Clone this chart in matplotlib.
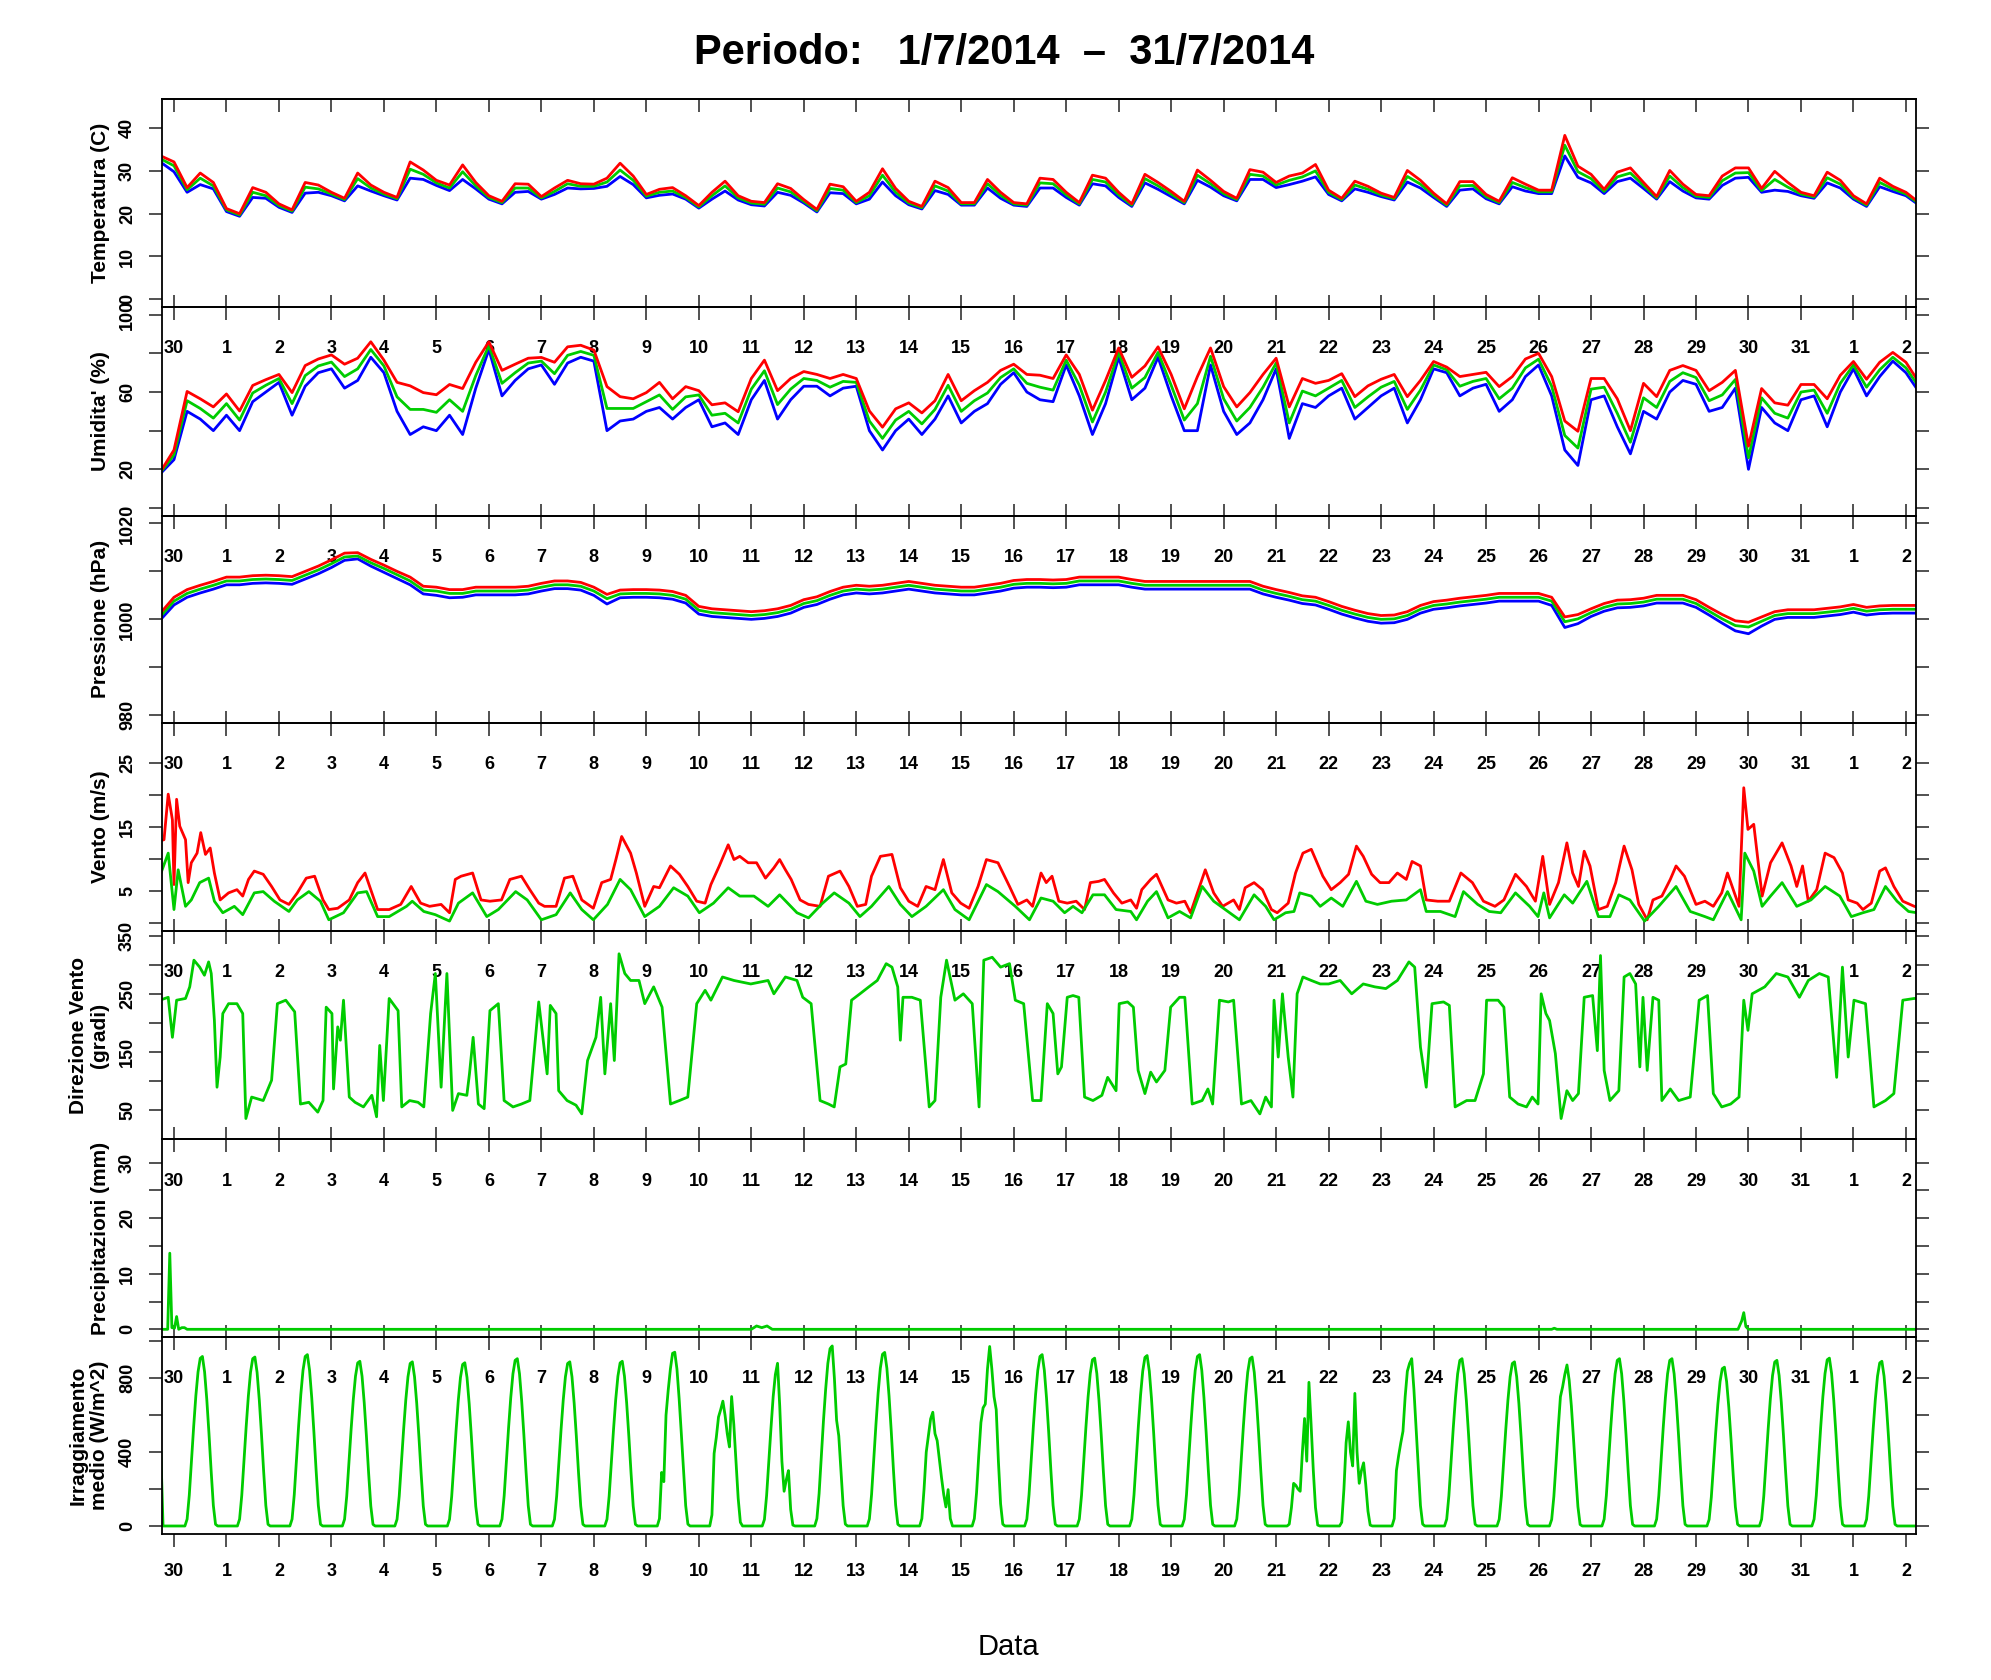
import numpy as np
import matplotlib
matplotlib.use('Agg')
import matplotlib.pyplot as plt

plt.rcParams['font.family'] = ['Liberation Sans', 'DejaVu Sans']
plt.rcParams['font.weight'] = 'bold'

# ---------------- data ----------------
day_labels = ['30', '1', '2', '3', '4', '5', '6', '7', '8', '9', '10', '11', '12', '13', '14', '15', '16',
              '17', '18', '19', '20', '21', '22', '23', '24', '25', '26', '27', '28', '29', '30', '31', '1', '2']

# 6-hourly series, first value at t = -0.25 day (t = 0 is the "30" tick)
temp_max = [33.5,
    32.1, 26.1, 29.5, 27.3,  21.2, 20.0, 26.1, 25.0,  22.3, 20.9, 27.3, 26.7,  25.0, 23.6, 29.5, 26.7,
    25.0, 23.8, 32.1, 30.2,  27.8, 26.7, 31.4, 27.3,  24.2, 22.9, 27.0, 26.9,  24.0, 26.0, 27.8, 27.0,
    26.9, 28.3, 31.8, 28.8,  24.5, 25.7, 26.1, 24.2,  21.9, 25.0, 27.6, 24.2,  22.9, 22.6, 27.0, 25.9,
    23.3, 21.0, 26.9, 26.3,  22.9, 25.0, 30.5, 25.9,  22.9, 21.7, 27.6, 26.1,  22.6, 22.6, 28.0, 25.0,
    22.6, 22.3, 28.3, 28.0,  25.0, 22.6, 29.0, 28.3,  25.0, 22.3, 29.2, 27.3,  25.2, 22.9, 30.2, 27.8,
    25.2, 23.6, 30.3, 29.7,  27.3, 28.8, 29.5, 31.5,  25.5, 23.6, 27.6, 26.4,  24.8, 23.8, 30.1, 27.8,
    24.8, 22.3, 27.5, 27.5,  24.5, 22.9, 28.4, 26.9,  25.5, 25.5, 38.3, 31.1,  29.2, 25.7, 29.7, 30.7,
    27.3, 24.0, 30.1, 26.9,  24.5, 24.2, 28.8, 30.7,  30.7, 25.9, 29.9, 27.3,  25.0, 24.2, 29.7, 27.8,
    24.2, 22.3, 28.3, 26.4,  25.0, 22.6]
temp_mean = [32.8,
    31.2, 25.6, 28.3, 26.5,  20.9, 19.7, 25.0, 24.2,  21.9, 20.6, 26.2, 25.8,  24.6, 23.3, 28.2, 26.0,
    24.6, 23.5, 30.4, 29.2,  27.2, 26.0, 29.8, 26.5,  23.8, 22.6, 26.0, 26.0,  23.7, 25.2, 27.0, 26.4,
    26.4, 27.4, 30.2, 27.8,  24.1, 25.0, 25.3, 23.8,  21.6, 24.2, 26.5, 23.7,  22.5, 22.2, 26.0, 25.1,
    22.9, 20.7, 25.9, 25.5,  22.6, 24.2, 29.0, 25.0,  22.5, 21.4, 26.5, 25.3,  22.3, 22.3, 27.0, 24.3,
    22.3, 22.0, 27.2, 27.0,  24.4, 22.3, 28.0, 27.4,  24.4, 22.0, 28.2, 26.5,  24.6, 22.6, 29.0, 27.0,
    24.7, 23.3, 29.2, 28.8,  26.7, 27.8, 28.6, 30.0,  25.0, 23.3, 26.7, 25.7,  24.4, 23.5, 28.7, 26.9,
    24.3, 22.0, 26.5, 26.6,  24.0, 22.6, 27.3, 26.1,  25.1, 25.1, 36.0, 29.8,  28.2, 25.2, 28.6, 29.5,
    26.6, 23.7, 28.8, 26.1,  24.1, 23.8, 27.7, 29.5,  29.6, 25.4, 28.0, 26.2,  24.6, 23.9, 28.4, 26.9,
    23.8, 22.0, 27.3, 25.8,  24.6, 22.3]
temp_min = [32.0,
    29.8, 25.0, 26.8, 25.8,  20.5, 19.4, 23.8, 23.6,  21.5, 20.3, 24.8, 25.0,  24.2, 23.0, 26.5, 25.3,
    24.2, 23.2, 28.3, 28.0,  26.6, 25.4, 28.0, 25.8,  23.4, 22.3, 25.0, 25.2,  23.4, 24.5, 26.0, 25.8,
    25.9, 26.4, 28.7, 26.8,  23.7, 24.3, 24.6, 23.4,  21.3, 23.4, 25.3, 23.2,  22.1, 21.8, 25.0, 24.3,
    22.5, 20.4, 24.9, 24.7,  22.3, 23.4, 27.4, 24.2,  22.1, 21.1, 25.4, 24.5,  22.0, 22.0, 26.0, 23.6,
    22.0, 21.7, 26.0, 26.0,  23.8, 22.0, 27.0, 26.5,  23.8, 21.7, 27.2, 25.7,  24.0, 22.3, 27.8, 26.2,
    24.2, 23.0, 28.0, 28.0,  26.1, 26.8, 27.6, 28.6,  24.5, 23.0, 25.8, 25.0,  24.0, 23.2, 27.4, 26.0,
    23.8, 21.7, 25.5, 25.8,  23.5, 22.3, 26.3, 25.3,  24.7, 24.7, 33.5, 28.5,  27.2, 24.7, 27.5, 28.3,
    25.9, 23.4, 27.5, 25.3,  23.7, 23.4, 26.6, 28.3,  28.5, 25.0, 25.5, 25.2,  24.2, 23.6, 27.2, 26.0,
    23.4, 21.7, 26.3, 25.2,  24.2, 22.0]

hum_max = [19.1,
    30.0, 60.3, 56.5, 52.3,  59.0, 50.2, 63.4, 66.4,  69.1, 59.7, 73.7, 77.1,  79.2, 74.4, 77.5, 86.0,
    76.5, 65.0, 63.2, 59.7,  58.6, 63.9, 61.8, 75.4,  86.0, 71.2, 74.4, 77.5,  77.9, 75.4, 83.4, 84.2,
    81.7, 62.8, 57.6, 56.5,  59.7, 65.0, 56.5, 62.8,  60.7, 53.4, 54.4, 49.8,  67.0, 76.5, 60.7, 67.0,
    70.6, 69.1, 67.0, 69.1,  67.0, 50.2, 41.8, 51.3,  54.4, 49.2, 55.5, 69.1,  55.5, 60.7, 65.0, 71.2,
    74.4, 69.1, 68.7, 67.0,  79.2, 69.1, 50.6, 66.0,  82.8, 67.6, 73.5, 83.4,  69.1, 51.3, 68.0, 82.8,
    62.8, 52.3, 59.7, 69.1,  77.5, 52.3, 67.0, 64.5,  66.0, 69.5, 57.6, 63.2,  66.6, 69.1, 57.6, 66.0,
    75.8, 72.9, 68.0, 69.1,  70.2, 62.8, 68.0, 77.1,  80.0, 68.0, 45.0, 39.7,  67.0, 67.0, 56.5, 40.0,
    64.5, 57.6, 71.2, 73.7,  71.2, 60.7, 65.0, 71.2,  32.0, 61.8, 54.4, 53.2,  63.9, 63.9, 56.5, 68.7,
    75.8, 66.6, 75.4, 80.5,  75.4, 64.9]
hum_mean = [18.6,
    27.5, 55.5, 51.5, 46.5,  54.0, 45.5, 59.5, 63.5,  67.0, 54.0, 68.5, 73.5,  75.5, 68.0, 72.0, 82.0,
    73.5, 57.5, 51.0, 51.0,  49.5, 56.0, 50.0, 68.5,  84.0, 64.5, 70.0, 75.0,  76.0, 69.5, 79.0, 81.0,
    79.0, 51.5, 51.5, 51.5,  55.0, 58.5, 51.0, 57.5,  58.5, 48.0, 49.0, 44.0,  61.5, 71.0, 53.5, 61.5,
    67.0, 66.0, 62.5, 65.5,  65.0, 45.0, 36.0, 45.5,  50.0, 43.5, 51.0, 63.5,  50.0, 55.5, 59.5, 67.5,
    72.0, 64.5, 62.5, 61.0,  76.5, 63.5, 44.5, 60.0,  80.5, 62.0, 67.5, 80.5,  63.5, 45.5, 54.0, 78.5,
    56.5, 45.0, 52.0, 62.5,  75.0, 44.0, 60.5, 58.0,  62.0, 66.0, 52.0, 57.5,  62.5, 65.5, 51.0, 61.0,
    74.0, 71.5, 63.0, 65.5,  67.0, 56.5, 62.0, 72.5,  77.0, 63.0, 37.5, 31.0,  61.5, 62.5, 49.0, 34.0,
    57.0, 52.0, 65.5, 70.0,  67.5, 55.5, 58.5, 66.5,  26.0, 57.0, 49.0, 46.5,  60.0, 61.0, 49.0, 64.5,
    74.0, 62.5, 71.5, 78.0,  72.5, 62.5]
hum_min = [18.0,
    25, 50, 46, 40,  48, 40, 55, 60,  65, 48, 63, 70,  72, 62, 66, 78,
    70, 50, 38, 42,  40, 48, 38, 62,  82, 58, 66, 72,  74, 64, 75, 78,
    76, 40, 45, 46,  50, 52, 46, 52,  56, 42, 44, 38,  56, 66, 46, 56,
    63, 63, 58, 62,  63, 40, 30, 40,  46, 38, 46, 58,  44, 50, 54, 64,
    70, 60, 56, 55,  74, 58, 38, 54,  78, 56, 62, 78,  58, 40, 40, 74,
    50, 38, 44, 56,  72, 36, 54, 52,  58, 62, 46, 52,  58, 62, 44, 56,
    72, 70, 58, 62,  64, 50, 56, 68,  74, 58, 30, 22,  56, 58, 42, 28,
    50, 46, 60, 66,  64, 50, 52, 62,  20, 52, 44, 40,  56, 58, 42, 60,
    72, 58, 68, 76,  70, 60]

press_max = [1001.4,
    1004.6, 1006.2, 1007.1, 1007.9,  1008.8, 1008.8, 1009.1, 1009.2,  1009.1, 1008.9, 1010.0, 1011.1,
    1012.4, 1013.8, 1013.9, 1012.5,  1011.3, 1010.0, 1008.8, 1006.9,  1006.7, 1006.2, 1006.2, 1006.7,
    1006.7, 1006.7, 1006.7, 1006.9,  1007.5, 1008.0, 1008.0, 1007.7,  1006.7, 1005.2, 1006.1, 1006.2,
    1006.2, 1006.1, 1005.8, 1005.0,  1002.7, 1002.2, 1002.0, 1001.8,  1001.6, 1001.8, 1002.2, 1002.9,
    1004.1, 1004.7, 1005.8, 1006.7,  1007.1, 1006.9, 1007.1, 1007.5,  1007.9, 1007.5, 1007.1, 1006.9,
    1006.7, 1006.7, 1007.1, 1007.5,  1008.1, 1008.3, 1008.3, 1008.2,  1008.3, 1008.8, 1008.8, 1008.8,
    1008.8, 1008.3, 1007.9, 1007.9,  1007.9, 1007.9, 1007.9, 1007.9,  1007.9, 1007.9, 1007.9, 1006.9,
    1006.2, 1005.6, 1004.9, 1004.6,  1003.7, 1002.7, 1001.9, 1001.2,  1000.8, 1000.9, 1001.6, 1002.9,
    1003.7, 1004.0, 1004.4, 1004.7,  1005.0, 1005.4, 1005.4, 1005.4,  1005.4, 1004.6, 1000.5, 1001.0,
    1002.2, 1003.3, 1004.0, 1004.1,  1004.4, 1005.0, 1005.0, 1005.0,  1004.1, 1002.5, 1001.0, 999.7,
    999.4, 1000.5, 1001.6, 1002.0,  1002.0, 1002.0, 1002.3, 1002.6,  1003.1, 1002.5, 1002.8, 1002.9,
    1002.9, 1002.9]
press_mean = [1000.7,
    1003.8, 1005.4, 1006.3, 1007.1,  1008.0, 1008.0, 1008.3, 1008.4,  1008.3, 1008.1, 1009.2, 1010.3,
    1011.6, 1013.0, 1013.2, 1011.8,  1010.6, 1009.3, 1008.0, 1006.1,  1005.9, 1005.4, 1005.4, 1005.9,
    1005.9, 1005.9, 1005.9, 1006.1,  1006.7, 1007.2, 1007.2, 1006.9,  1005.9, 1004.3, 1005.3, 1005.4,
    1005.4, 1005.3, 1005.0, 1004.2,  1001.9, 1001.4, 1001.2, 1001.0,  1000.8, 1001.0, 1001.4, 1002.1,
    1003.3, 1003.9, 1005.0, 1005.9,  1006.3, 1006.1, 1006.3, 1006.7,  1007.1, 1006.7, 1006.3, 1006.1,
    1005.9, 1005.9, 1006.3, 1006.7,  1007.3, 1007.5, 1007.5, 1007.4,  1007.5, 1008.0, 1008.0, 1008.0,
    1008.0, 1007.5, 1007.1, 1007.1,  1007.1, 1007.1, 1007.1, 1007.1,  1007.1, 1007.1, 1007.1, 1006.1,
    1005.4, 1004.8, 1004.1, 1003.8,  1002.9, 1001.9, 1001.1, 1000.4,  1000.0, 1000.1, 1000.8, 1002.1,
    1002.9, 1003.2, 1003.6, 1003.9,  1004.2, 1004.6, 1004.6, 1004.6,  1004.6, 1003.8, 999.5, 1000.1,
    1001.4, 1002.5, 1003.2, 1003.3,  1003.6, 1004.2, 1004.2, 1004.2,  1003.3, 1001.7, 1000.1, 998.7,
    998.4, 999.6, 1000.8, 1001.2,  1001.2, 1001.2, 1001.5, 1001.8,  1002.3, 1001.7, 1002.0, 1002.1,
    1002.1, 1002.1]
press_min = [1000.0,
    1003.0, 1004.6, 1005.5, 1006.3,  1007.2, 1007.2, 1007.5, 1007.6,  1007.5, 1007.3, 1008.4, 1009.5,
    1010.8, 1012.3, 1012.6, 1011.1,  1009.8, 1008.5, 1007.2, 1005.3,  1005.0, 1004.5, 1004.6, 1005.1,
    1005.1, 1005.1, 1005.1, 1005.3,  1005.9, 1006.4, 1006.4, 1006.1,  1005.0, 1003.2, 1004.5, 1004.6,
    1004.6, 1004.5, 1004.2, 1003.4,  1001.1, 1000.6, 1000.4, 1000.2,  1000.0, 1000.2, 1000.6, 1001.3,
    1002.5, 1003.1, 1004.2, 1005.1,  1005.5, 1005.3, 1005.5, 1005.9,  1006.3, 1005.9, 1005.5, 1005.3,
    1005.1, 1005.1, 1005.5, 1005.9,  1006.5, 1006.7, 1006.7, 1006.6,  1006.7, 1007.2, 1007.2, 1007.2,
    1007.2, 1006.7, 1006.3, 1006.3,  1006.3, 1006.3, 1006.3, 1006.3,  1006.3, 1006.3, 1006.3, 1005.3,
    1004.6, 1004.0, 1003.3, 1003.0,  1002.1, 1001.1, 1000.3, 999.6,  999.2, 999.3, 1000.0, 1001.3,
    1002.1, 1002.4, 1002.8, 1003.1,  1003.4, 1003.8, 1003.8, 1003.8,  1003.8, 1002.9, 998.3, 999.1,
    1000.6, 1001.7, 1002.4, 1002.5,  1002.8, 1003.4, 1003.4, 1003.4,  1002.5, 1000.9, 999.2, 997.6,
    997.0, 998.6, 1000.0, 1000.4,  1000.4, 1000.4, 1000.7, 1001.0,  1001.5, 1000.9, 1001.2, 1001.3,
    1001.3, 1001.3]

# wind speed (m/s), irregular times in days
gust_t = [-0.27, -0.19, -0.11, -0.03, 0.00, 0.05, 0.11, 0.22, 0.27, 0.33, 0.44, 0.51, 0.60, 0.69, 0.77, 0.88,
    1.04, 1.20, 1.31, 1.42, 1.53, 1.70, 1.86, 2.02, 2.19, 2.35, 2.52, 2.68, 2.84, 2.95, 3.12, 3.34, 3.50,
    3.64, 3.77, 3.88, 4.10, 4.32, 4.52, 4.70, 4.87, 5.09, 5.25, 5.36, 5.47, 5.69, 5.85, 6.02, 6.24, 6.40,
    6.62, 6.78, 6.95, 7.06, 7.28, 7.44, 7.60, 7.77, 7.99, 8.15, 8.32, 8.42, 8.53, 8.70, 8.81, 8.97, 9.14,
    9.25, 9.46, 9.63, 9.79, 9.96, 10.12, 10.23, 10.39, 10.56, 10.67, 10.78, 10.94, 11.10, 11.27, 11.43,
    11.54, 11.65, 11.76, 11.93, 12.09, 12.31, 12.47, 12.69, 12.86, 13.02, 13.18, 13.29, 13.46, 13.68,
    13.84, 14.00, 14.17, 14.33, 14.50, 14.66, 14.82, 14.99, 15.15, 15.32, 15.48, 15.70, 15.92, 16.08,
    16.25, 16.36, 16.52, 16.62, 16.73, 16.86, 17.02, 17.19, 17.35, 17.46, 17.62, 17.73, 17.90, 18.06,
    18.23, 18.34, 18.44, 18.61, 18.72, 18.94, 19.10, 19.26, 19.37, 19.54, 19.65, 19.81, 19.98, 20.19,
    20.30, 20.41, 20.58, 20.74, 20.91, 21.02, 21.23, 21.37, 21.51, 21.67, 21.78, 21.89, 22.05, 22.22,
    22.38, 22.53, 22.66, 22.82, 22.98, 23.15, 23.31, 23.48, 23.59, 23.75, 23.86, 24.08, 24.30, 24.52,
    24.74, 24.95, 25.17, 25.34, 25.56, 25.77, 25.94, 26.08, 26.21, 26.38, 26.54, 26.65, 26.76, 26.87,
    26.98, 27.14, 27.31, 27.47, 27.63, 27.78, 27.91, 28.07, 28.18, 28.35, 28.51, 28.62, 28.78, 29.00,
    29.17, 29.33, 29.49, 29.60, 29.82, 29.91, 29.99, 30.10, 30.26, 30.42, 30.64, 30.81, 30.92, 31.03,
    31.14, 31.30, 31.46, 31.63, 31.79, 31.90, 32.07, 32.18, 32.34, 32.50, 32.61, 32.77, 32.94, 33.16, 33.25]
gust_ms = [12.8, 13.0, 20.1, 16.1, 6.0, 19.3, 15.1, 13.0, 6.3, 9.4, 10.9, 14.1, 10.7, 11.7, 7.8, 3.6,
    4.7, 5.2, 4.2, 6.8, 8.1, 7.6, 5.7, 3.6, 2.9, 4.7, 7.0, 7.3, 3.6, 2.1, 2.3, 3.6, 6.3,
    7.8, 4.7, 2.1, 2.1, 2.9, 5.7, 3.1, 2.6, 2.9, 1.6, 6.8, 7.3, 7.8, 3.6, 3.4, 3.6, 6.8,
    7.3, 5.2, 3.1, 2.6, 2.6, 7.0, 7.3, 3.6, 2.3, 6.3, 6.8, 9.9, 13.5, 10.9, 7.8, 2.6, 5.7,
    5.5, 8.9, 7.6, 5.7, 3.4, 3.1, 6.0, 8.9, 12.2, 9.9, 10.4, 9.4, 9.4, 7.0, 8.6,
    9.9, 8.3, 6.8, 3.6, 2.9, 2.6, 7.3, 8.1, 5.7, 2.6, 2.9, 7.3, 10.4, 10.7,
    5.5, 3.4, 2.6, 5.7, 5.2, 9.9, 4.7, 3.1, 2.3, 5.7, 9.9, 9.4, 5.7, 2.9,
    3.6, 2.6, 7.8, 6.3, 7.3, 3.4, 3.1, 3.4, 2.1, 6.3, 6.5, 6.8, 4.7, 3.1,
    3.6, 2.3, 5.2, 6.8, 7.6, 3.6, 3.1, 3.4, 1.6, 5.7, 8.3, 4.7, 2.6, 3.6,
    2.1, 5.5, 6.3, 5.2, 2.1, 1.6, 3.1, 7.8, 10.9, 11.5, 9.4, 7.3, 5.2, 6.3,
    7.6, 12.0, 10.4, 7.6, 6.3, 6.3, 7.8, 6.8, 9.6, 8.9, 3.6, 3.4, 3.4, 7.8,
    6.3, 3.4, 2.6, 3.6, 7.6, 5.7, 3.4, 10.4, 2.9, 6.3, 12.5, 7.8, 5.7, 11.2,
    8.9, 2.1, 2.6, 6.3, 12.0, 8.3, 2.9, 0.5, 3.6, 4.2, 6.8, 8.9, 7.3, 2.9,
    3.4, 2.6, 4.7, 7.8, 2.6, 21.1, 14.6, 15.4, 4.2, 9.4, 12.5, 8.9, 5.7, 8.9,
    3.4, 5.2, 10.9, 10.2, 7.8, 3.6, 3.1, 2.1, 3.1, 8.1, 8.6, 5.7, 3.4, 2.6, 2.4]
wind_t = [-0.27, -0.11, 0.00, 0.08, 0.22, 0.33, 0.49, 0.66, 0.77, 0.93, 1.15, 1.31, 1.53, 1.70, 1.91, 2.19,
    2.35, 2.57, 2.79, 2.95, 3.23, 3.50, 3.67, 3.88, 4.10, 4.43, 4.54, 4.76, 4.98, 5.25, 5.42, 5.69, 5.96,
    6.18, 6.51, 6.73, 7.00, 7.28, 7.55, 7.77, 7.99, 8.26, 8.50, 8.70, 8.97, 9.25, 9.52, 9.79, 10.01,
    10.28, 10.56, 10.78, 11.05, 11.32, 11.54, 11.87, 12.09, 12.36, 12.58, 12.86, 13.07, 13.29, 13.62,
    13.84, 14.06, 14.33, 14.66, 14.88, 15.15, 15.48, 15.70, 16.03, 16.30, 16.52, 16.75, 16.97, 17.13,
    17.30, 17.51, 17.73, 17.95, 18.23, 18.34, 18.55, 18.72, 18.94, 19.16, 19.37, 19.59, 19.81, 20.03,
    20.30, 20.58, 20.80, 20.96, 21.18, 21.34, 21.45, 21.67, 21.84, 22.05, 22.27, 22.53, 22.71, 22.93,
    23.20, 23.48, 23.75, 23.86, 24.13, 24.41, 24.57, 24.84, 25.06, 25.28, 25.56, 25.83, 25.99, 26.10,
    26.21, 26.49, 26.65, 26.92, 27.14, 27.36, 27.53, 27.74, 28.02, 28.29, 28.62, 28.89, 29.17, 29.33,
    29.60, 29.86, 29.93, 30.10, 30.26, 30.42, 30.64, 30.92, 31.19, 31.46, 31.74, 31.96, 32.18, 32.39,
    32.61, 32.83, 33.05, 33.21]
wind_ms = [7.3, 10.9, 2.1, 8.3, 2.6, 3.6, 6.3, 7.0, 3.4, 1.6, 2.6, 1.3, 4.7, 4.9, 3.4, 1.8,
    3.6, 4.9, 3.4, 0.5, 1.6, 4.7, 4.9, 1.0, 1.0, 2.6, 3.4, 1.8, 1.3, 0.3, 3.1, 4.7, 1.0,
    2.1, 4.9, 3.6, 0.5, 1.3, 4.7, 2.1, 0.5, 2.9, 6.8, 5.2, 1.0, 2.6, 5.5, 4.2, 1.6,
    3.1, 5.5, 4.2, 4.2, 2.6, 4.4, 1.6, 0.8, 3.1, 4.7, 3.1, 1.0, 2.6, 5.7,
    2.9, 1.0, 2.6, 5.2, 2.1, 0.5, 6.0, 4.9, 2.6, 0.5, 3.9, 3.4, 1.6, 2.6,
    1.6, 4.4, 4.4, 2.1, 1.8, 0.5, 3.4, 4.9, 0.8, 1.8, 0.8, 5.7, 3.4, 2.1,
    0.5, 4.4, 2.6, 0.5, 1.6, 1.8, 4.7, 4.2, 2.6, 3.9, 2.6, 6.5, 3.4, 2.9,
    3.4, 3.6, 5.2, 1.8, 1.8, 1.0, 4.9, 2.9, 1.8, 1.6, 4.7, 2.6, 1.0, 4.7,
    0.8, 4.4, 3.1, 6.5, 1.0, 1.0, 4.4, 3.6, 0.3, 2.6, 5.7, 1.8, 1.0, 0.5,
    4.9, 0.5, 10.9, 8.1, 2.6, 4.2, 6.3, 2.6, 3.6, 5.7, 4.2, 1.0, 1.6, 2.1,
    5.7, 3.4, 1.8, 1.6]

# wind direction (degrees), irregular times in days
dir_t = [-0.27, -0.11, -0.03, 0.05, 0.22, 0.30, 0.38, 0.49, 0.58, 0.66, 0.71, 0.77, 0.82, 0.88, 0.93,
    1.04, 1.20, 1.31, 1.37, 1.48, 1.70, 1.86, 1.97, 2.13, 2.30, 2.41, 2.57, 2.74, 2.84, 2.90, 3.01, 3.04,
    3.12, 3.17, 3.23, 3.34, 3.45, 3.61, 3.77, 3.86, 3.92, 3.99, 4.10, 4.27, 4.34, 4.49, 4.65, 4.76, 4.89,
    4.98, 5.09, 5.20, 5.31, 5.42, 5.58, 5.63, 5.70, 5.80, 5.91, 6.02, 6.18, 6.29, 6.46, 6.62, 6.78, 6.95,
    7.11, 7.17, 7.28, 7.33, 7.49, 7.66, 7.77, 7.88, 8.04, 8.13, 8.21, 8.32, 8.39, 8.48, 8.59, 8.70, 8.86,
    8.97, 9.14, 9.30, 9.46, 9.63, 9.79, 9.96, 10.12, 10.23, 10.45, 10.67, 10.99, 11.32, 11.43, 11.65,
    11.87, 11.98, 12.14, 12.31, 12.47, 12.58, 12.69, 12.80, 12.91, 13.07, 13.24, 13.40, 13.57, 13.68,
    13.79, 13.84, 13.89, 14.06, 14.22, 14.39, 14.50, 14.61, 14.72, 14.88, 15.04, 15.21, 15.34, 15.43,
    15.59, 15.75, 15.92, 16.03, 16.19, 16.36, 16.52, 16.64, 16.75, 16.84, 16.91, 17.02, 17.13, 17.24,
    17.35, 17.51, 17.68, 17.79, 17.95, 18.01, 18.17, 18.28, 18.37, 18.50, 18.61, 18.72, 18.88, 18.99,
    19.16, 19.26, 19.40, 19.59, 19.70, 19.79, 19.92, 20.09, 20.19, 20.34, 20.52, 20.69, 20.80, 20.91,
    20.96, 21.04, 21.12, 21.23, 21.32, 21.40, 21.51, 21.67, 21.84, 22.00, 22.22, 22.44, 22.66, 22.88,
    23.09, 23.31, 23.53, 23.64, 23.75, 23.86, 23.97, 24.19, 24.30, 24.41, 24.63, 24.79, 24.95, 25.01,
    25.23, 25.34, 25.45, 25.61, 25.77, 25.88, 25.99, 26.05, 26.14, 26.21, 26.32, 26.43, 26.54, 26.65,
    26.76, 26.87, 27.03, 27.12, 27.18, 27.25, 27.36, 27.53, 27.63, 27.74, 27.85, 27.93, 27.99, 28.07,
    28.18, 28.29, 28.35, 28.51, 28.67, 28.89, 29.06, 29.22, 29.33, 29.49, 29.66, 29.82, 29.91, 29.99,
    30.07, 30.31, 30.53, 30.75, 30.97, 31.14, 31.35, 31.52, 31.68, 31.79, 31.90, 32.01, 32.23, 32.39,
    32.61, 32.77, 32.94, 33.16, 33.25]
dir_deg = [240, 245, 176, 240, 243, 263, 309, 297, 283, 306, 286, 205, 90, 142, 217,
    234, 234, 217, 36, 73, 67, 102, 234, 240, 220, 61, 64, 47, 67, 228, 217, 87,
    194, 171, 240, 73, 64, 56, 76, 39, 162, 67, 243, 222, 56, 67, 64, 56, 217,
    286, 90, 286, 50, 79, 76, 113, 176, 61, 53, 222, 234, 67, 56, 61, 67, 237,
    113, 231, 217, 84, 67, 59, 44, 136, 176, 245, 113, 234, 136, 320, 286, 274, 274,
    234, 263, 228, 61, 67, 73, 234, 257, 240, 280, 274, 268, 274, 251, 280,
    274, 245, 234, 67, 61, 56, 125, 130, 240, 251, 263, 274, 303, 297,
    263, 171, 245, 245, 240, 56, 67, 245, 309, 240, 251, 234, 56, 309,
    314, 297, 303, 240, 234, 67, 67, 234, 217, 113, 125, 245, 248, 245,
    73, 67, 76, 107, 84, 234, 237, 228, 119, 79, 116, 99, 119, 228,
    245, 245, 61, 67, 87, 61, 240, 237, 240, 61, 67, 44, 73, 56,
    240, 142, 251, 142, 73, 251, 280, 274, 268, 268, 274, 251, 268, 263,
    260, 274, 306, 297, 159, 90, 234, 237, 231, 56, 67, 67, 113, 240,
    240, 228, 73, 61, 56, 73, 61, 251, 217, 205, 148, 36, 84, 67,
    79, 245, 248, 153, 317, 119, 67, 84, 280, 286, 268, 125, 245, 119,
    245, 240, 67, 87, 67, 73, 240, 248, 79, 56, 61, 73, 240, 188,
    251, 263, 286, 280, 245, 274, 286, 280, 107, 297, 142, 240, 234, 56,
    67, 79, 240, 243, 243]

rain_t = [-0.25, -0.12, -0.08, -0.04, 0.01, 0.05, 0.09, 0.15, 0.2, 0.25,
          11.0, 11.1, 11.2, 11.3, 11.4, 26.25, 26.3, 26.35,
          29.8, 29.87, 29.91, 29.95, 30.0, 33.25]
rain_mm = [0, 0, 13.7, 0.3, 0.2, 2.3, 0, 0.3, 0.3, 0,
           0, 0.6, 0.3, 0.6, 0, 0, 0.2, 0,
           0, 1.5, 3.0, 0.5, 0, 0]

# hourly radiation, hours 06..19 of each day ("30" .. "1")
rad_first_evening = [400, 0, 0, 0, 0, 0]          # hours 18..23 of the day before "30"
rad_days = [
    [37, 167, 352, 538, 705, 834, 908, 918, 834, 686, 501, 297, 111, 9],
    [37, 166, 351, 536, 702, 832, 906, 915, 832, 684, 499, 296, 111, 9],
    [37, 169, 356, 543, 712, 843, 918, 928, 843, 693, 506, 300, 112, 9],
    [36, 162, 342, 523, 685, 811, 883, 892, 811, 667, 487, 288, 108, 9],
    [36, 162, 341, 521, 682, 808, 880, 889, 808, 665, 485, 287, 108, 9],
    [36, 161, 339, 518, 679, 804, 875, 884, 804, 661, 482, 286, 107, 9],
    [37, 165, 348, 531, 695, 824, 897, 906, 824, 677, 494, 293, 110, 9],
    [36, 162, 341, 521, 682, 808, 880, 889, 808, 665, 485, 287, 108, 9],
    [36, 162, 342, 523, 685, 811, 883, 892, 811, 667, 487, 288, 108, 9],
    [40, 290, 240, 600, 735, 850, 935, 941, 850, 690, 500, 300, 110, 10],
    [60, 393, 480, 590, 630, 676, 600, 500, 428, 701, 550, 350, 150, 20],
    [35, 165, 350, 530, 700, 820, 881, 650, 350, 188, 250, 300, 90, 5],
    [40, 175, 370, 570, 740, 880, 960, 975, 800, 573, 488, 300, 110, 10],
    [38, 171, 361, 550, 721, 854, 930, 940, 854, 702, 512, 304, 114, 9],
    [40, 200, 400, 490, 580, 616, 500, 462, 359, 260, 170, 103, 197, 40],
    [40, 180, 380, 560, 640, 660, 850, 972, 850, 700, 630, 350, 120, 10],
    [37, 169, 356, 543, 712, 843, 918, 928, 843, 693, 506, 300, 112, 9],
    [37, 165, 349, 532, 698, 826, 900, 909, 826, 679, 496, 294, 110, 9],
    [37, 168, 354, 541, 708, 839, 913, 923, 839, 690, 503, 298, 112, 9],
    [37, 169, 356, 543, 712, 843, 918, 928, 843, 693, 506, 300, 112, 9],
    [37, 166, 351, 536, 702, 832, 906, 915, 832, 684, 499, 296, 111, 9],
    [10, 100, 231, 220, 200, 188, 400, 582, 351, 778, 547, 300, 100, 5],
    [20, 200, 450, 564, 400, 325, 718, 400, 231, 300, 342, 222, 80, 5],
    [40, 300, 380, 450, 513, 700, 838, 880, 906, 740, 530, 310, 110, 10],
    [37, 165, 348, 531, 695, 824, 897, 906, 824, 677, 494, 293, 110, 9],
    [36, 162, 341, 521, 682, 808, 880, 889, 808, 665, 485, 287, 108, 9],
    [35, 160, 340, 530, 700, 753, 820, 872, 790, 650, 470, 280, 105, 8],
    [37, 165, 348, 531, 695, 824, 897, 906, 824, 677, 494, 293, 110, 9],
    [37, 165, 348, 531, 695, 824, 897, 906, 824, 677, 494, 293, 110, 9],
    [35, 156, 330, 504, 660, 782, 852, 860, 782, 643, 469, 278, 104, 9],
    [36, 163, 344, 525, 689, 815, 888, 897, 815, 670, 489, 290, 109, 9],
    [37, 165, 349, 532, 698, 826, 900, 909, 826, 679, 496, 294, 110, 9],
    [36, 162, 342, 523, 685, 811, 883, 892, 811, 667, 487, 288, 108, 9],
]

# ---------------- assemble time axes ----------------
def six_hourly(vals):
    return -0.25 + 0.25 * np.arange(len(vals))

rad_vals = list(rad_first_evening)
for day in rad_days:
    rad_vals += [0] * 6 + day + [0] * 4
rad_vals += [0] * 6
rad_t = -0.25 + np.arange(len(rad_vals)) / 24.0

# ---------------- figure ----------------
W, H = 1991, 1680
fig = plt.figure(figsize=(W / 100, H / 100), dpi=100)
fig.patch.set_facecolor('white')

L_PX, R_PX = 161.7, 1915.7
panels = [(99, 307), (307, 515.7), (515.7, 723), (723, 930.7),
          (930.7, 1139.3), (1139.3, 1336.7), (1336.7, 1534.3)]
XMIN, XMAX = -0.234, 33.186
RED, GREEN, BLUE = '#ff0000', '#00cc00', '#0000ff'
LW = 2.0
TICKC = '#333333'

axes = []
for top, bot in panels:
    ax = fig.add_axes([L_PX / W, 1 - bot / H, (R_PX - L_PX) / W, (bot - top) / H])
    ax.patch.set_visible(False)
    axes.append(ax)

def style(ax, ylim, yticks, ylabels, last=False):
    ax.set_xlim(XMIN, XMAX)
    ax.set_ylim(*ylim)
    ax.set_xticks(np.arange(len(day_labels)))
    ax.set_xticklabels(day_labels, fontsize=13, fontweight='bold')
    if last:
        ax.tick_params(axis='x', direction='out', length=9, width=1.2, pad=12)
    else:
        ax.tick_params(axis='x', direction='inout', length=18, width=1.2, pad=15)
    ax.tick_params(axis='x', color=TICKC)
    ax.set_yticks(yticks)
    ax.set_yticklabels(ylabels, rotation=90, va='center', fontsize=13, fontweight='bold')
    ax.tick_params(axis='y', direction='out', left=True, right=True, labelright=False,
                   length=9.5, width=1.2, pad=9, color=TICKC)
    for sp in ax.spines.values():
        sp.set_linewidth(1.3)

# 1 temperature
ax = axes[0]
ax.plot(six_hourly(temp_min), temp_min, color=BLUE, lw=LW)
ax.plot(six_hourly(temp_mean), temp_mean, color=GREEN, lw=LW)
ax.plot(six_hourly(temp_max), temp_max, color=RED, lw=LW)
style(ax, (-1.8, 46.8), [0, 10, 20, 30, 40], ['0', '10', '20', '30', '40'])
sec = ax.secondary_xaxis('top')
sec.set_xticks(np.arange(len(day_labels)))
sec.tick_params(axis='x', direction='in', length=9, width=1.2, labeltop=False, color=TICKC)
sec.spines['top'].set_linewidth(1.3)

# 2 humidity
ax = axes[1]
ax.plot(six_hourly(hum_min), hum_min, color=BLUE, lw=LW)
ax.plot(six_hourly(hum_mean), hum_mean, color=GREEN, lw=LW)
ax.plot(six_hourly(hum_max), hum_max, color=RED, lw=LW)
style(ax, (-4, 104), [0, 20, 40, 60, 80, 100], ['', '20', '', '60', '', '100'])

# 3 pressure
ax = axes[2]
ax.plot(six_hourly(press_min), press_min, color=BLUE, lw=LW)
ax.plot(six_hourly(press_mean), press_mean, color=GREEN, lw=LW)
ax.plot(six_hourly(press_max), press_max, color=RED, lw=LW)
style(ax, (978.4, 1021.6), [980, 990, 1000, 1010, 1020], ['980', '', '1000', '', '1020'])

# 4 wind speed
ax = axes[3]
ax.plot(gust_t, gust_ms, color=RED, lw=LW)
ax.plot(wind_t, wind_ms, color=GREEN, lw=LW)
style(ax, (-1.2, 31.2), [0, 5, 10, 15, 20, 25], ['', '5', '', '15', '', '25'])

# 5 wind direction
ax = axes[4]
ax.plot(dir_t, dir_deg, color=GREEN, lw=LW)
style(ax, (0.2, 359.8), [50, 100, 150, 200, 250, 300, 350], ['50', '', '150', '', '250', '', '350'])

# 6 rain
ax = axes[5]
ax.plot(rain_t, rain_mm, color=GREEN, lw=LW)
style(ax, (-1.33, 34.2), [0, 5, 10, 15, 20, 25, 30], ['0', '', '10', '', '20', '', '30'])

# 7 radiation
ax = axes[6]
ax.plot(rad_t, rad_vals, color=GREEN, lw=LW)
style(ax, (-45, 1025), [0, 200, 400, 600, 800, 1000], ['0', '', '400', '', '800', ''], last=True)

# y labels
ylabels = ['Temperatura (C)', "Umidita' (%)", 'Pressione (hPa)', 'Vento (m/s)',
           'Direzione Vento\n(gradi)', 'Precipitazioni (mm)', 'Irraggiamento\nmedio (W/m^2)']
for (top, bot), lab in zip(panels, ylabels):
    xc = 89 if '\n' in lab else 100
    fig.text(xc / W, 1 - (top + bot) / 2 / H, lab, rotation=90, ha='center', va='center',
             multialignment='center', fontsize=15, fontweight='bold', linespacing=1.15)

fig.text(1004 / W, 1 - 53 / H, 'Periodo:   1/7/2014  \u2013  31/7/2014', ha='center', va='center',
         fontsize=30, fontweight='bold')
fig.text(1008 / W, 1 - 1647 / H, 'Data', ha='center', va='center', fontsize=21, fontweight='normal')

fig.savefig('out.png', dpi=100, facecolor='white')
